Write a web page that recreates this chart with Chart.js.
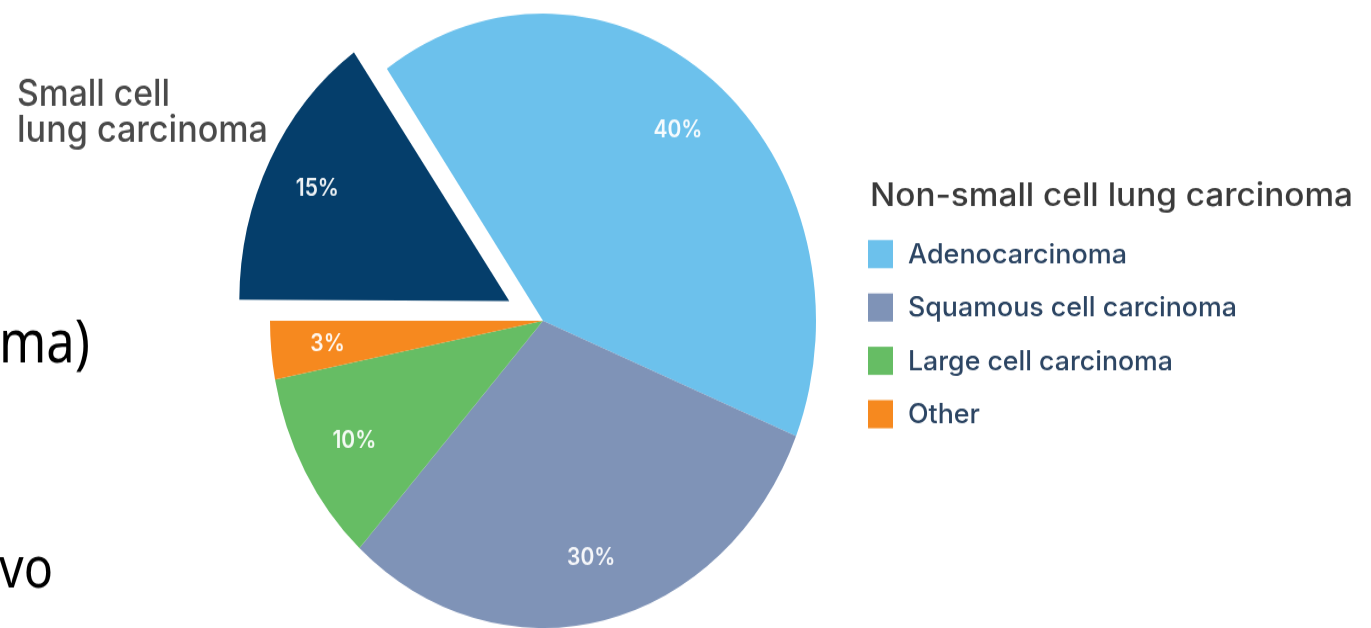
<!DOCTYPE html>
<html><head><meta charset="utf-8">
<script src="https://cdn.jsdelivr.net/npm/chart.js@4.4.1/dist/chart.umd.min.js"></script>
<style>
html,body{margin:0;padding:0;background:#fff;overflow:hidden;width:1371px;height:628px;}
#wrap{position:absolute;left:0;top:0;width:1371px;height:558px;transform-origin:0 0;transform:scaleY(1.125448);}
</style></head><body>
<div id="wrap"><canvas id="c" width="1371" height="558"></canvas></div>
<script>
// ---- data ----
const categories = ['Small cell lung carcinoma','Adenocarcinoma','Squamous cell carcinoma','Large cell carcinoma','Other'];
const shares = [15, 40, 30, 10, 3];
const legendTitle = 'Non-small cell lung carcinoma';
const legendItems = ['Adenocarcinoma','Squamous cell carcinoma','Large cell carcinoma','Other'];
const sideLabel = ['Small cell','lung carcinoma'];
const slideFragments = ['ma)','vo'];

// ---- style ----
const sliceColors = ['#053e6b','#6cc1ec','#7f93b7','#66bd64','#f6891f'];
const S = 628/558;           // vertical stretch of the picture
const R = 273;               // pie radius
const FONT = 'Inter, "DejaVu Sans", sans-serif';

function fitText(ctx, text, x, y, w){
  const m = ctx.measureText(text).width;
  ctx.save();
  ctx.translate(x, y);
  ctx.scale(w / m, 1);
  ctx.fillText(text, 0, 0);
  ctx.restore();
}

const explodeFix = {
  id: 'explodeFix',
  beforeDatasetsDraw(chart){
    const meta = chart.getDatasetMeta(0);
    this._saved = meta.data.map(a => a.outerRadius);
    meta.data.forEach(a => {
      const off = (a.options.offset || 0) / 4;
      if (off) {
        const circ = a.endAngle - a.startAngle;
        const fix = 1 - Math.sin(Math.min(Math.PI, circ));
        a.outerRadius = a.outerRadius - off * fix - 3;
      }
    });
  },
  afterDatasetsDraw(chart){
    const meta = chart.getDatasetMeta(0);
    meta.data.forEach((a, i) => { a.outerRadius = this._saved[i]; });
  }
};

const textPlugin = {
  id: 'texts',
  afterDraw(chart){
    const ctx = chart.ctx;
    const meta = chart.getDatasetMeta(0);
    // percent labels
    ctx.save();
    ctx.fillStyle = 'rgba(255,255,255,0.93)';
    ctx.font = '600 21px ' + FONT;
    ctx.textAlign = 'center';
    ctx.textBaseline = 'middle';
    meta.data.forEach((a, i) => {
      const p = a.getProps(['x','y','startAngle','endAngle','outerRadius'], true);
      const mid = (p.startAngle + p.endAngle) / 2;
      const off = (a.options.offset || 0) / 4;
      const d = off + 0.793 * p.outerRadius;
      const v = chart.data.datasets[0].data[i];
      ctx.fillText(v + '%', p.x + Math.cos(mid) * d, p.y + Math.sin(mid) * d);
    });
    ctx.restore();

    // small cell label
    ctx.save();
    ctx.fillStyle = '#4a4a4a';
    ctx.font = '500 32px ' + FONT;
    ctx.textAlign = 'left';
    ctx.textBaseline = 'alphabetic';
    fitText(ctx, sideLabel[0], 17, 93.5, 153);
    fitText(ctx, sideLabel[1], 17, 126.3, 251);
    ctx.restore();

    // legend
    ctx.save();
    ctx.textAlign = 'left';
    ctx.textBaseline = 'alphabetic';
    ctx.fillStyle = '#3a3a3a';
    ctx.font = '500 28px ' + FONT;
    fitText(ctx, legendTitle, 870, 183, 483);
    const itemW = [219, 329, 265, 72];
    ctx.font = '500 24px ' + FONT;
    legendItems.forEach((t, k) => {
      const top = 213.3 + k * 47.4;
      ctx.fillStyle = sliceColors[k + 1];
      ctx.fillRect(868, top, 25, 25);
      ctx.fillStyle = '#2c4563';
      fitText(ctx, t, 908, top + 20.5, itemW[k]);
    });
    ctx.restore();

    // slide text fragments (not stretched)
    ctx.save();
    ctx.scale(1, 1 / S);
    ctx.fillStyle = '#000';
    ctx.textAlign = 'left';
    ctx.textBaseline = 'alphabetic';
    ctx.font = '60px "Noto Sans", sans-serif';
    fitText(ctx, slideFragments[0], -1, 362, 91);
    ctx.font = '58px "Noto Sans", sans-serif';
    fitText(ctx, slideFragments[1], -1, 587, 54);
    ctx.restore();
  }
};

new Chart(document.getElementById('c'), {
  type: 'pie',
  data: {
    labels: categories,
    datasets: [{
      data: shares,
      backgroundColor: sliceColors,
      borderWidth: 0,
      offset: [152, 0, 0, 0, 0]
    }]
  },
  options: {
    responsive: false,
    animation: false,
    rotation: -90,
    radius: R,
    layout: { padding: { left: 0, right: 285, top: 12, bottom: 0 } },
    plugins: { legend: { display: false }, tooltip: { enabled: false } },
    events: []
  },
  plugins: [explodeFix, textPlugin]
});
</script>
</body></html>
